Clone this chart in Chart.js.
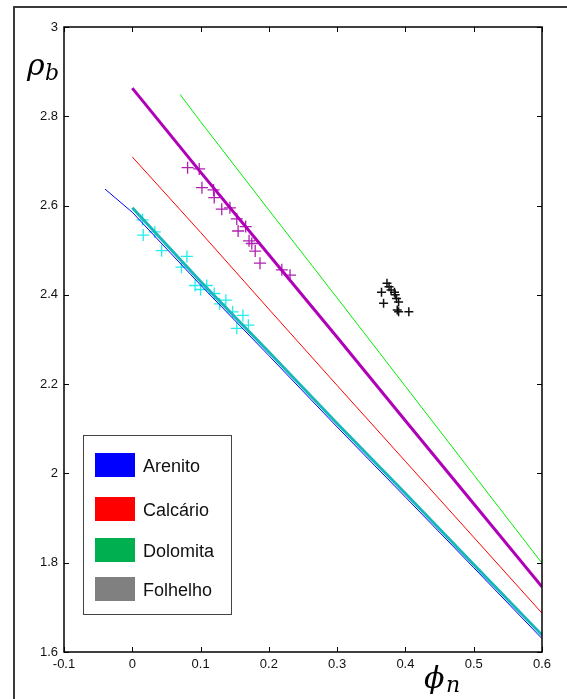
<!DOCTYPE html>
<html>
<head>
<meta charset="utf-8">
<script src="https://cdn.jsdelivr.net/npm/chart.js@4/dist/chart.umd.min.js"></script>
<style>
  body { margin: 0; background: #fff; }
  canvas { display: block; }
</style>
</head>
<body>
<canvas id="rhoChart" width="567" height="699"></canvas>
<script>
// tick labels
var xTicks = [-0.1, 0, 0.1, 0.2, 0.3, 0.4, 0.5, 0.6];
var yTicks = [1.6, 1.8, 2, 2.2, 2.4, 2.6, 2.8, 3];

// legend entries
var legendNames = ['Arenito', 'Calcário', 'Dolomita', 'Folhelho'];
var legendColors = ['#0000ff', '#ff0000', '#00b050', '#808080'];

// curves
var arenitoX = [-0.04, 0, 0.1, 0.2, 0.3, 0.4, 0.5, 0.6];
var arenitoY = [2.637, 2.585, 2.422, 2.264, 2.104, 1.947, 1.789, 1.630];
var arenitoFitX = [0, 0.1, 0.2, 0.3, 0.4, 0.5, 0.6];
var arenitoFitY = [2.595, 2.43, 2.272, 2.112, 1.955, 1.796, 1.638];
var calcarioX = [0, 0.1, 0.2, 0.3, 0.4, 0.5, 0.6];
var calcarioY = [2.709, 2.54, 2.368, 2.197, 2.027, 1.857, 1.687];
var dolomitaX = [0.07, 0.1, 0.2, 0.3, 0.4, 0.5, 0.6];
var dolomitaY = [2.849, 2.788, 2.59, 2.393, 2.195, 1.997, 1.799];
var magentaX = [0, 0.1, 0.2, 0.3, 0.4, 0.5, 0.6];
var magentaY = [2.863, 2.675, 2.49, 2.305, 2.118, 1.932, 1.746];

// samples (+ markers)
var cyanPtsX = [0.015, 0.016, 0.033, 0.043, 0.08, 0.072, 0.092, 0.109, 0.12, 0.137, 0.147, 0.162, 0.153, 0.170, 0.10, 0.128];
var cyanPtsY = [2.568, 2.534, 2.541, 2.499, 2.486, 2.462, 2.421, 2.421, 2.403, 2.388, 2.362, 2.354, 2.325, 2.332, 2.412, 2.38];
var magPtsX = [0.081, 0.098, 0.102, 0.119, 0.120, 0.131, 0.143, 0.153, 0.155, 0.166, 0.171, 0.175, 0.180, 0.187, 0.219, 0.231];
var magPtsY = [2.685, 2.682, 2.640, 2.635, 2.618, 2.592, 2.595, 2.570, 2.543, 2.553, 2.521, 2.515, 2.498, 2.471, 2.456, 2.444];
var blackPtsX = [0.373, 0.376, 0.365, 0.379, 0.384, 0.385, 0.387, 0.390, 0.368, 0.388, 0.390, 0.405];
var blackPtsY = [2.426, 2.418, 2.406, 2.411, 2.406, 2.400, 2.392, 2.384, 2.381, 2.366, 2.362, 2.362];

function pts(xs, ys) {
    return xs.map(function (x, i) { return { x: x, y: ys[i] }; });
}

function lineSet(xs, ys, color, width, order) {
    return { data: pts(xs, ys), showLine: true, borderColor: color, borderWidth: width,
             pointRadius: 0, fill: false, order: order };
}

function markSet(xs, ys, color, r, w, order) {
    return { data: pts(xs, ys), showLine: false, pointStyle: 'cross', pointRadius: r,
             borderColor: color, borderWidth: w, order: order };
}

var decorPlugin = {
    id: 'decor',
    afterDraw: function (chart) {
        var ctx = chart.ctx, a = chart.chartArea;
        var sx = chart.scales.x, sy = chart.scales.y;
        ctx.save();
        // outer frame (cut at right and bottom)
        ctx.strokeStyle = '#3a3a3a';
        ctx.lineWidth = 2;
        ctx.beginPath();
        ctx.moveTo(14, 699); ctx.lineTo(14, 7); ctx.lineTo(567, 7);
        ctx.stroke();
        // axes box
        ctx.strokeStyle = '#000';
        ctx.lineWidth = 1.5;
        ctx.strokeRect(a.left, a.top, a.right - a.left, a.bottom - a.top);
        // inward ticks
        ctx.lineWidth = 1;
        ctx.beginPath();
        xTicks.forEach(function (v) {
            var px = Math.round(sx.getPixelForValue(v)) + 0.5;
            ctx.moveTo(px, a.bottom); ctx.lineTo(px, a.bottom - 5);
            ctx.moveTo(px, a.top); ctx.lineTo(px, a.top + 5);
        });
        yTicks.forEach(function (v) {
            var py = Math.round(sy.getPixelForValue(v)) + 0.5;
            ctx.moveTo(a.left, py); ctx.lineTo(a.left + 5, py);
            ctx.moveTo(a.right, py); ctx.lineTo(a.right - 5, py);
        });
        ctx.stroke();
        // axis titles
        ctx.fillStyle = '#000';
        ctx.textBaseline = 'alphabetic';
        ctx.textAlign = 'left';
        ctx.font = 'italic 30px "DejaVu Serif"';
        ctx.fillText('ρ', 27, 75);
        ctx.font = 'italic 22px "DejaVu Serif"';
        ctx.fillText('b', 45, 80);
        ctx.font = 'italic 30px "DejaVu Serif"';
        ctx.fillText('ϕ', 424, 688);
        ctx.font = 'italic 22px "DejaVu Serif"';
        ctx.fillText('n', 446, 692);
        // legend
        ctx.fillStyle = '#fff';
        ctx.fillRect(83, 435, 149, 180);
        ctx.strokeStyle = '#444';
        ctx.lineWidth = 1;
        ctx.strokeRect(83.5, 435.5, 148, 179);
        var rows = [453, 497, 538, 577];
        ctx.font = '18px "Liberation Sans", Arial, sans-serif';
        ctx.textBaseline = 'middle';
        legendNames.forEach(function (name, i) {
            ctx.fillStyle = legendColors[i];
            ctx.fillRect(95, rows[i], 40, 24);
            ctx.fillStyle = '#111';
            ctx.fillText(name, 143, rows[i] + 14);
        });
        ctx.restore();
    }
};

var ctx = document.getElementById('rhoChart').getContext('2d');
new Chart(ctx, {
    type: 'scatter',
    data: {
        datasets: [
            markSet(cyanPtsX, cyanPtsY, '#22eeee', 6, 1.3, 6),
            markSet(magPtsX, magPtsY, '#b020b0', 6, 1.3, 7),
            markSet(blackPtsX, blackPtsY, '#111111', 4.5, 1.5, 8),
            lineSet(arenitoX, arenitoY, '#0000ff', 1, 5),
            lineSet(arenitoFitX, arenitoFitY, '#18b8b8', 3, 1),
            lineSet(calcarioX, calcarioY, '#ff0000', 1, 2),
            lineSet(dolomitaX, dolomitaY, '#00ee00', 1, 3),
            lineSet(magentaX, magentaY, '#b000b8', 3, 4)
        ]
    },
    options: {
        responsive: false,
        animation: false,
        devicePixelRatio: 1,
        layout: { padding: { left: 0, top: 27, right: 25, bottom: 0 } },
        plugins: { legend: { display: false }, tooltip: { enabled: false } },
        scales: {
            x: {
                type: 'linear', min: -0.1, max: 0.6,
                grid: { display: false, drawTicks: false },
                border: { display: false },
                afterBuildTicks: function (s) { s.ticks = xTicks.map(function (v) { return { value: v }; }); },
                afterFit: function (s) { s.height = 47; },
                ticks: { padding: 5, color: '#111', maxRotation: 0, autoSkip: false,
                         font: { family: '"Liberation Sans", Arial, sans-serif', size: 13 },
                         callback: function (v) { return String(v); } }
            },
            y: {
                type: 'linear', min: 1.6, max: 3,
                grid: { display: false, drawTicks: false },
                border: { display: false },
                afterBuildTicks: function (s) { s.ticks = yTicks.map(function (v) { return { value: v }; }); },
                afterFit: function (s) { s.width = 64; },
                ticks: { padding: 6, color: '#111', autoSkip: false,
                         font: { family: '"Liberation Sans", Arial, sans-serif', size: 13 },
                         callback: function (v) { return String(v); } }
            }
        }
    },
    plugins: [decorPlugin]
});
</script>
</body>
</html>
